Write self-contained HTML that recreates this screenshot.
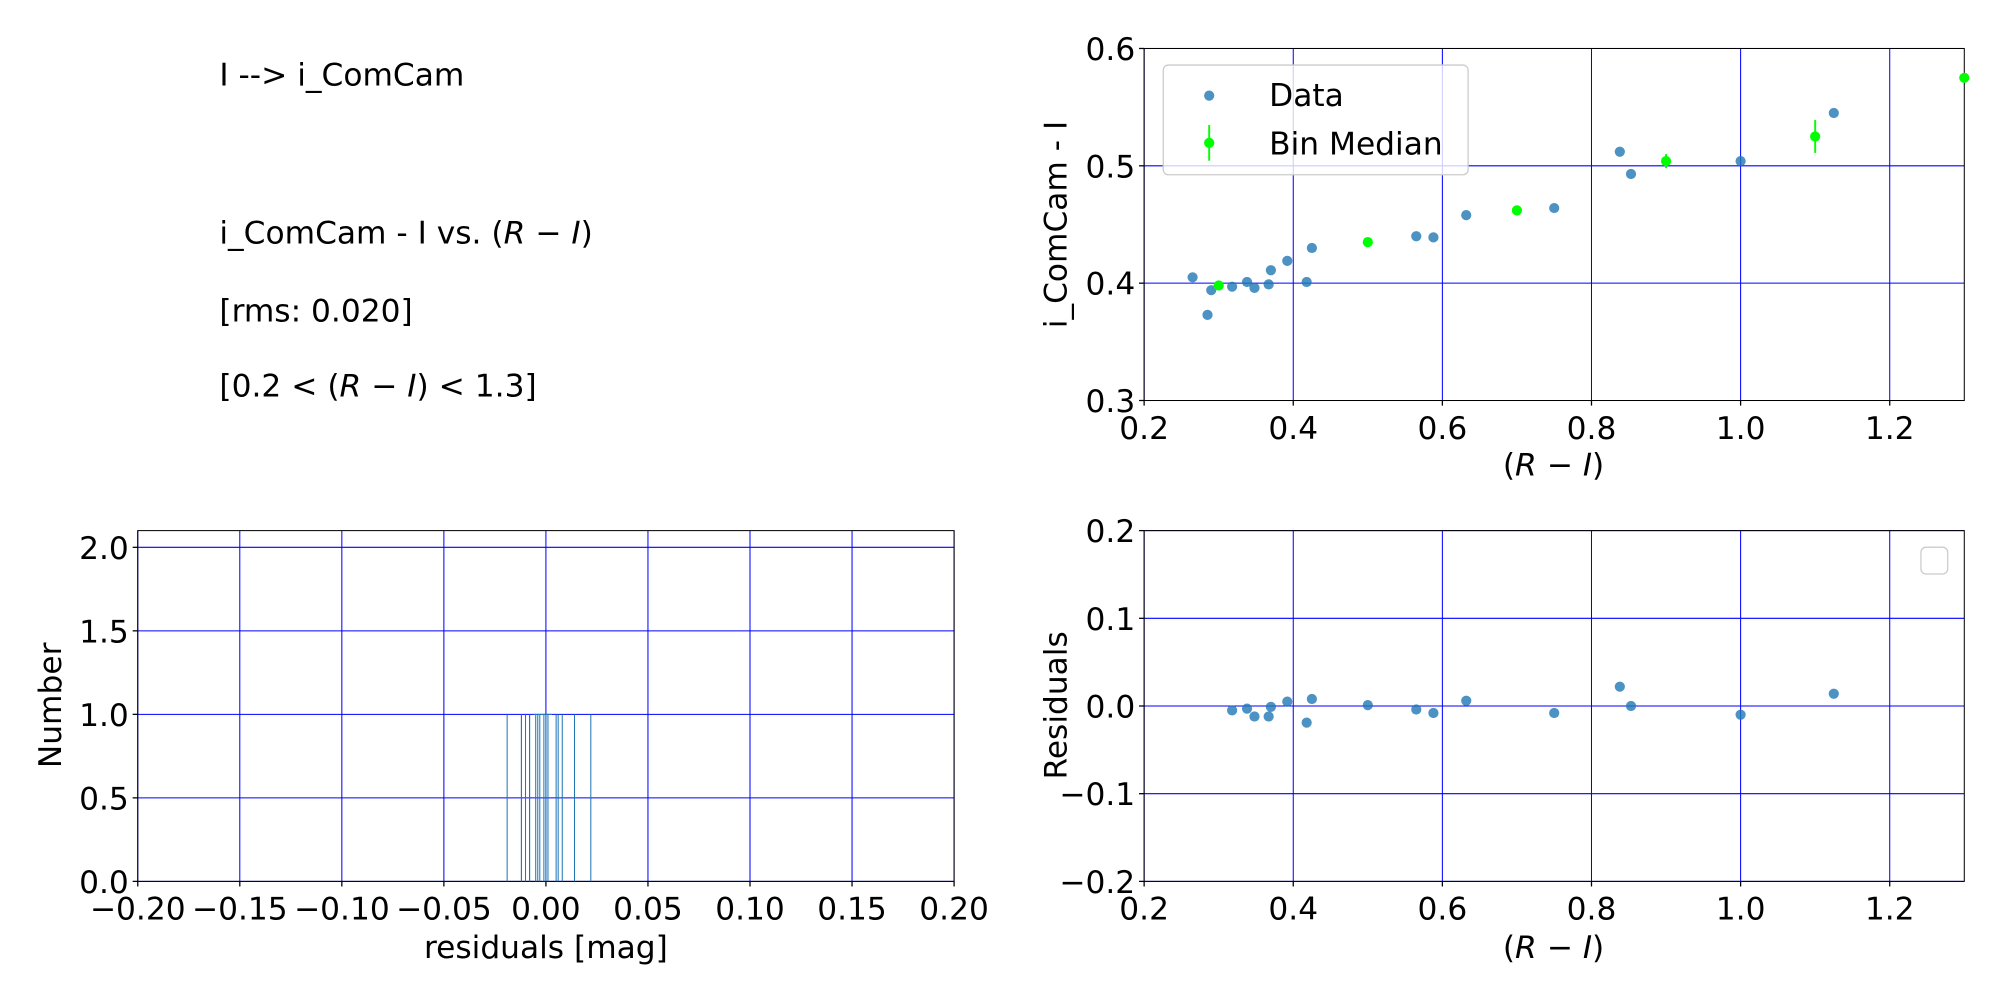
<!DOCTYPE html>
<html><head><meta charset="utf-8"><style>html,body{margin:0;padding:0;background:#fff}svg{display:block}text{font-family:"DejaVu Sans","Liberation Sans",sans-serif;fill:#000}</style></head>
<body>
<svg id="s" width="2000" height="1000" viewBox="0 0 1568 784" xmlns="http://www.w3.org/2000/svg">
<g font-size="24.5">
<text x="172" y="67">I --&gt; i_ComCam</text>
<text x="172" y="191">i_ComCam - I vs. (<tspan font-style="italic">R</tspan> − <tspan font-style="italic">I</tspan>)</text>
<text x="172" y="252">[rms: 0.020]</text>
<text x="172" y="311">[0.2 &lt; (<tspan font-style="italic">R</tspan> − <tspan font-style="italic">I</tspan>) &lt; 1.3]</text>
</g>
<g id="g"></g>
<g font-size="24.5" text-anchor="middle">
<text x="1218" y="373">(<tspan font-style="italic">R</tspan> − <tspan font-style="italic">I</tspan>)</text>
<text x="1218" y="751">(<tspan font-style="italic">R</tspan> − <tspan font-style="italic">I</tspan>)</text>
<text x="428" y="751">residuals [mag]</text>
<text transform="translate(836,176) rotate(-90)">i_ComCam - I</text>
<text transform="translate(836,553) rotate(-90)">Residuals</text>
<text transform="translate(48,553) rotate(-90)">Number</text>
</g>
<g font-size="24.5">
<rect x="912" y="51" width="239" height="86" rx="4" fill="#fff" fill-opacity="0.8" stroke="#ccc"/>
<circle cx="948" cy="75" r="4" fill="#1f77b4" opacity="0.8"/>
<line x1="948" y1="98" x2="948" y2="126" stroke="#00ff00" stroke-width="1.5"/>
<circle cx="948" cy="112" r="4" fill="#00ff00"/>
<text x="995" y="83">Data</text>
<text x="995" y="121">Bin Median</text>
<rect x="1506" y="429" width="21" height="21" rx="4" fill="#fff" stroke="#ccc"/>
</g>
</svg>
<script>
const NS="http://www.w3.org/2000/svg",g=document.getElementById('g');
function el(t,a,txt){const e=document.createElementNS(NS,t);for(const k in a)e.setAttribute(k,a[k]);if(txt!=null)e.textContent=txt;g.appendChild(e);return e;}
function axes(x0,y0,x1,y1,xmin,xmax,ymin,ymax,xt,yt,fx,fy){
 const X=v=>x0+(v-xmin)/(xmax-xmin)*(x1-x0),Y=v=>y1-(v-ymin)/(ymax-ymin)*(y1-y0);
 xt.forEach(v=>{const px=X(v);el('line',{x1:px,y1:y0,x2:px,y2:y1,stroke:'#00f','stroke-width':0.8});el('line',{x1:px,y1:y1,x2:px,y2:y1+4,stroke:'#000'});el('text',{x:px,y:y1+30,'font-size':24.5,'text-anchor':'middle'},fx(v));});
 yt.forEach(v=>{const py=Y(v);el('line',{x1:x0,y1:py,x2:x1,y2:py,stroke:'#00f','stroke-width':0.8});el('line',{x1:x0-4,y1:py,x2:x0,y2:py,stroke:'#000'});el('text',{x:x0-7,y:py+9,'font-size':24.5,'text-anchor':'end'},fy(v));});
 el('rect',{x:x0,y:y0,width:x1-x0,height:y1-y0,fill:'none',stroke:'#000','stroke-width':0.8});
 return [X,Y];
}
const f1=v=>v.toFixed(1),f2=v=>(v<0?'−':'')+Math.abs(v).toFixed(2);
let [X,Y]=axes(897,38,1540,314,0.2,1.3,0.3,0.6,[0.2,0.4,0.6,0.8,1.0,1.2],[0.3,0.4,0.5,0.6],f1,f1);
const d=[[0.265,0.405],[0.285,0.373],[0.29,0.394],[0.318,0.397],[0.338,0.401],[0.348,0.396],[0.367,0.399],[0.37,0.411],[0.392,0.419],[0.418,0.401],[0.425,0.430],[0.565,0.440],[0.588,0.439],[0.632,0.458],[0.75,0.464],[0.838,0.512],[0.853,0.493],[1.0,0.504],[1.125,0.545]];
d.forEach(p=>el('circle',{cx:X(p[0]),cy:Y(p[1]),r:4,fill:'#1f77b4',opacity:0.8}));
[[0.3,0.398,0.002],[0.5,0.435,0.002],[0.7,0.462,0.001],[0.9,0.504,0.006],[1.1,0.525,0.014],[1.3,0.575,0.002]].forEach(p=>{el('line',{x1:X(p[0]),x2:X(p[0]),y1:Y(p[1]-p[2]),y2:Y(p[1]+p[2]),stroke:'#00ff00','stroke-width':1.5});el('circle',{cx:X(p[0]),cy:Y(p[1]),r:4,fill:'#00ff00'});});
const r=[[0.318,-0.005],[0.338,-0.003],[0.348,-0.012],[0.367,-0.012],[0.37,-0.001],[0.392,0.005],[0.418,-0.019],[0.425,0.008],[0.5,0.001],[0.565,-0.004],[0.588,-0.008],[0.632,0.006],[0.75,-0.008],[0.838,0.022],[0.853,0.0],[1.0,-0.01],[1.125,0.014]];
[X,Y]=axes(897,416,1540,691,0.2,1.3,-0.2,0.2,[0.2,0.4,0.6,0.8,1.0,1.2],[-0.2,-0.1,0,0.1,0.2],f1,v=>(v<0?'−':'')+Math.abs(v).toFixed(1));
r.forEach(p=>el('circle',{cx:X(p[0]),cy:Y(p[1]),r:4,fill:'#1f77b4',opacity:0.8}));
[X,Y]=axes(108,416,748,691,-0.2,0.2,0,2.1,[-0.2,-0.15,-0.1,-0.05,0,0.05,0.1,0.15,0.2],[0,0.5,1,1.5,2],f2,f1);
r.forEach(p=>{const px=X(p[1]);el('line',{x1:px,x2:px,y1:Y(0),y2:Y(1),stroke:'#1f77b4','stroke-width':0.8});});
el('line',{x1:X(-0.006),x2:X(0.003),y1:Y(1),y2:Y(1),stroke:'#1f77b4','stroke-width':0.8});
</script>
</body></html>
